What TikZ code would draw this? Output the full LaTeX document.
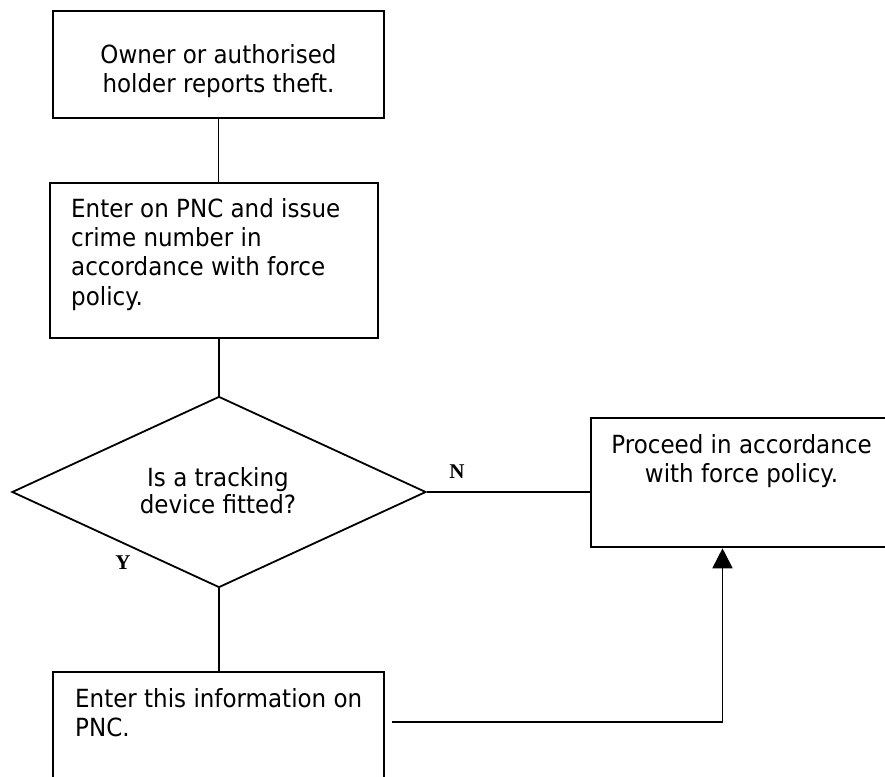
\documentclass[tikz,border=0pt]{standalone}
\usepackage{fontspec}
\setmainfont{DejaVu Sans}[FakeStretch=0.92]
\newfontfamily\labfont{Liberation Serif}
\usetikzlibrary{shapes.geometric,arrows.meta}
\begin{document}
\begin{tikzpicture}[x=1pt,y=-1pt,
  box/.style={draw,line width=2pt,inner sep=0pt,rectangle},
  conn/.style={line width=1.8pt},
  txt/.style={inner sep=0pt,font=\fontsize{25}{29.3}\selectfont},
  yn/.style={inner sep=0pt,font=\fontsize{21}{21}\labfont\bfseries}]
\useasboundingbox (0,0) rectangle (885,776);
\node[box,minimum width=331pt,minimum height=107pt] (b1) at (218.5,64.5) {};
\node[box,minimum width=327.7pt,minimum height=154.7pt] (b2) at (213.85,260.35) {};
\node[draw,line width=1.8pt,diamond,inner sep=0pt,minimum width=414pt,minimum height=191pt] (dia) at (219,492) {};
\node[box,minimum width=309pt,minimum height=129.3pt] (b3) at (745.5,482.65) {};
\node[box,minimum width=331pt,minimum height=128pt] (b4) at (218.5,736) {};

\draw[conn] (b1.south) -- (b1.south |- b2.north);
\draw[conn] (b2.south -| dia.north) -- (dia.north);
\draw[conn] (dia.east) -- (dia.east -| b3.west);
\draw[conn] (dia.south) -- (dia.south |- b4.north);
\coordinate (c1) at (392,721.7);
\draw[conn,-{Triangle[length=20pt,width=20pt]}] (c1) -| ([xshift=-23pt]b3.south);

\node[txt,align=center,anchor=base] (t1) at (218.5,92.6) {Owner or authorised\\holder reports theft.};
\node[txt,align=left,anchor=base west] (t2) at (71,305) {Enter on PNC and issue\\crime number in\\accordance with force\\policy.};
\node[txt,align=center,anchor=base] (t3) at (741.5,482.3) {Proceed in accordance\\with force policy.};
\node[txt,align=center,anchor=base,font=\fontsize{25}{27.3}\selectfont] (td) at (218,513.3) {Is a tracking\\device fitted?};
\node[txt,align=left,anchor=base west] (t4) at (75,736.7) {Enter this information on\\PNC.};
\node[yn] (ln) at (457,472) {N};
\node[yn] (ly) at (123,563) {Y};
\end{tikzpicture}
\end{document}
